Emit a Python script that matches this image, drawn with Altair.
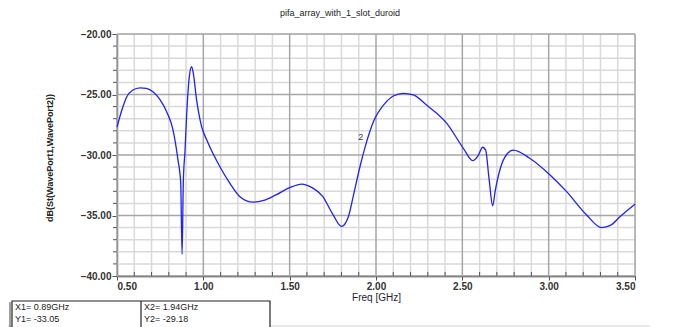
import altair as alt
import pandas as pd

# ---- data ----
freq = [0.50, 0.53, 0.556, 0.59, 0.633, 0.67, 0.71, 0.75, 0.79, 0.824, 0.853, 0.869,
        0.877, 0.884, 0.894, 0.903, 0.919, 0.932, 0.942, 0.961, 0.99, 1.02, 1.096,
        1.154, 1.212, 1.288, 1.35, 1.42, 1.50, 1.57, 1.63, 1.69, 1.75, 1.80, 1.84,
        1.87, 1.907, 1.94, 1.985, 2.052, 2.10, 2.158, 2.216, 2.293, 2.41, 2.506,
        2.56, 2.59, 2.618, 2.635, 2.655, 2.676, 2.69, 2.718, 2.76, 2.795, 2.89,
        3.008, 3.104, 3.22, 3.307, 3.36, 3.413, 3.50]
db = [-27.7, -26.2, -25.2, -24.65, -24.45, -24.5, -24.8, -25.45, -26.5, -27.9, -30.4, -32.3,
      -38.2, -32.3, -29.6, -26.8, -23.5, -22.7, -23.25, -25.45, -27.66, -28.76, -30.97,
      -32.34, -33.45, -33.9, -33.75, -33.3, -32.7, -32.4, -32.7, -33.4, -34.9, -35.9, -35.1,
      -33.3, -30.97, -29.18, -27.25, -25.73, -25.12, -24.9, -25.04, -25.87, -27.38, -29.45,
      -30.47, -30.1, -29.36, -29.6, -32.0, -34.2, -33.0, -31.2, -29.9, -29.6, -30.27,
      -31.65, -33.03, -34.96, -36.0, -35.8, -35.1, -34.07]

x_major = [0.5, 1.0, 1.5, 2.0, 2.5, 3.0, 3.5]
x_minor = [0.6, 0.7, 0.8, 0.9, 1.1, 1.2, 1.3, 1.4, 1.6, 1.7, 1.8, 1.9, 2.1, 2.2, 2.3, 2.4,
           2.6, 2.7, 2.8, 2.9, 3.1, 3.2, 3.3, 3.4]
y_major = [-20, -25, -30, -35, -40]
y_minor = [-21, -22, -23, -24, -26, -27, -28, -29, -31, -32, -33, -34, -36, -37, -38, -39]

title_text = "pifa_array_with_1_slot_duroid"
y_title = "dB(St(WavePort1,WavePort2))"
x_title = "Freq [GHz]"
marker_x = [1.94]
marker_y = [-29.18]
marker_lbl = ["2"]
table_lines = [("X1= 0.89GHz", -102, 273), ("Y1= -33.05", -102, 285),
               ("X2= 1.94GHz", 27, 273), ("Y2= -29.18", 27, 285)]

FONT = "Liberation Sans"
xs = alt.Scale(domain=[0.5, 3.5], nice=False, zero=False)
ys = alt.Scale(domain=[-40, -20], nice=False, zero=False)

XAX = alt.Axis(values=x_major, format=".2f", grid=False, tickSize=4, tickColor="#555",
               labelFont=FONT, labelFontSize=10, labelFontWeight="bold", labelColor="#333",
               labelPadding=1, labelOverlap=False, title=x_title,
               titleFont=FONT, titleFontSize=10, titleFontWeight="normal",
               titleColor="#223", titlePadding=1, domainColor="#222", domainWidth=1.5)
YAX = alt.Axis(values=y_major, format=".2f", grid=False, tickSize=5, tickColor="#555",
               labelOverlap=False, title=None,
               labelFont=FONT, labelFontSize=10, labelFontWeight="bold", labelColor="#333",
               labelPadding=1, domainColor="#666", domainWidth=1.5)

curve = pd.DataFrame({"f": freq, "db": db})

line = alt.Chart(curve).mark_line(color="#1f1fff", strokeWidth=1.3, interpolate="monotone").encode(
    x=alt.X("f:Q", scale=xs, axis=XAX, title=x_title),
    y=alt.Y("db:Q", scale=ys, axis=YAX, title=None),
)

xminor = alt.Chart(pd.DataFrame({"v": x_minor})).mark_rule(color="#d9d9d9", strokeWidth=1.5).encode(
    x=alt.X("v:Q", scale=xs, axis=XAX, title=x_title))
xmajor = alt.Chart(pd.DataFrame({"v": x_major})).mark_rule(color="#a6a6a6", strokeWidth=1.5).encode(
    x=alt.X("v:Q", scale=xs, axis=XAX, title=x_title))
yminor = alt.Chart(pd.DataFrame({"v": y_minor})).mark_rule(color="#d9d9d9", strokeWidth=1.5).encode(
    y=alt.Y("v:Q", scale=ys, axis=YAX, title=None))
ymajor = alt.Chart(pd.DataFrame({"v": y_major})).mark_rule(color="#a6a6a6", strokeWidth=1.5).encode(
    y=alt.Y("v:Q", scale=ys, axis=YAX, title=None))
# minor tick marks on the axes
ytick = alt.Chart(pd.DataFrame({"v": y_minor})).mark_rule(color="#555", strokeWidth=1).encode(
    x=alt.value(-4), x2=alt.value(0), y=alt.Y("v:Q", scale=ys, axis=YAX, title=None))
xtick = alt.Chart(pd.DataFrame({"v": x_minor})).mark_rule(color="#555", strokeWidth=1).encode(
    x=alt.X("v:Q", scale=xs, axis=XAX, title=x_title), y=alt.value(238), y2=alt.value(242))

mk = alt.Chart(pd.DataFrame({"x": marker_x, "y": marker_y, "t": marker_lbl})).mark_text(
    font=FONT, fontSize=9, color="#333", dx=-5, dy=-8).encode(
    x=alt.X("x:Q", scale=xs, axis=XAX, title=x_title), y=alt.Y("y:Q", scale=ys, axis=YAX, title=None),
    text="t:N")

ttl = alt.Chart(pd.DataFrame({"t": [title_text]})).mark_text(
    font=FONT, fontSize=9, color="#222").encode(
    x=alt.value(223), y=alt.value(-21), text="t:N")

ytl = alt.Chart(pd.DataFrame({"t": [y_title]})).mark_text(
    font=FONT, fontSize=9, fontWeight="bold", color="#222", angle=270).encode(
    x=alt.value(-67), y=alt.value(124), text="t:N")

box = alt.Chart(pd.DataFrame({"a": [0]})).mark_rect(fill="white", stroke="#222", strokeWidth=1.2).encode(
    x=alt.value(-105), x2=alt.value(153), y=alt.value(267), y2=alt.value(300))
div = alt.Chart(pd.DataFrame({"a": [0]})).mark_rule(color="#222", strokeWidth=1.2).encode(
    x=alt.value(24), y=alt.value(267), y2=alt.value(300))
lft = alt.Chart(pd.DataFrame({"a": [0]})).mark_rule(color="#444", strokeWidth=1).encode(
    x=alt.value(-107), y=alt.value(268), y2=alt.value(300))
bl = alt.Chart(pd.DataFrame({"a": [0]})).mark_rule(color="#e0e0e0", strokeWidth=1.5).encode(
    x=alt.value(-117), x2=alt.value(533), y=alt.value(292))

ttxt_layers = [
    alt.Chart(pd.DataFrame({"t": [t[0]]})).mark_text(
        font=FONT, fontSize=9, color="#222", align="left", baseline="middle").encode(
        x=alt.value(t[1]), y=alt.value(t[2]), text="t:N")
    for t in table_lines
]

chart = alt.layer(xminor, yminor, xmajor, ymajor, ytick, xtick, line, mk, ttl, ytl, bl, box, div, lft,
                  *ttxt_layers).properties(
    width=518, height=242,
    padding={"left": 109, "top": 26, "right": 20, "bottom": 52},
    autosize=alt.AutoSizeParams(type="none"),
).configure_view(stroke="#8c8c8c", strokeWidth=2).configure(background="white")

chart.save("out.html", embed_options={"renderer": "svg", "actions": False})
